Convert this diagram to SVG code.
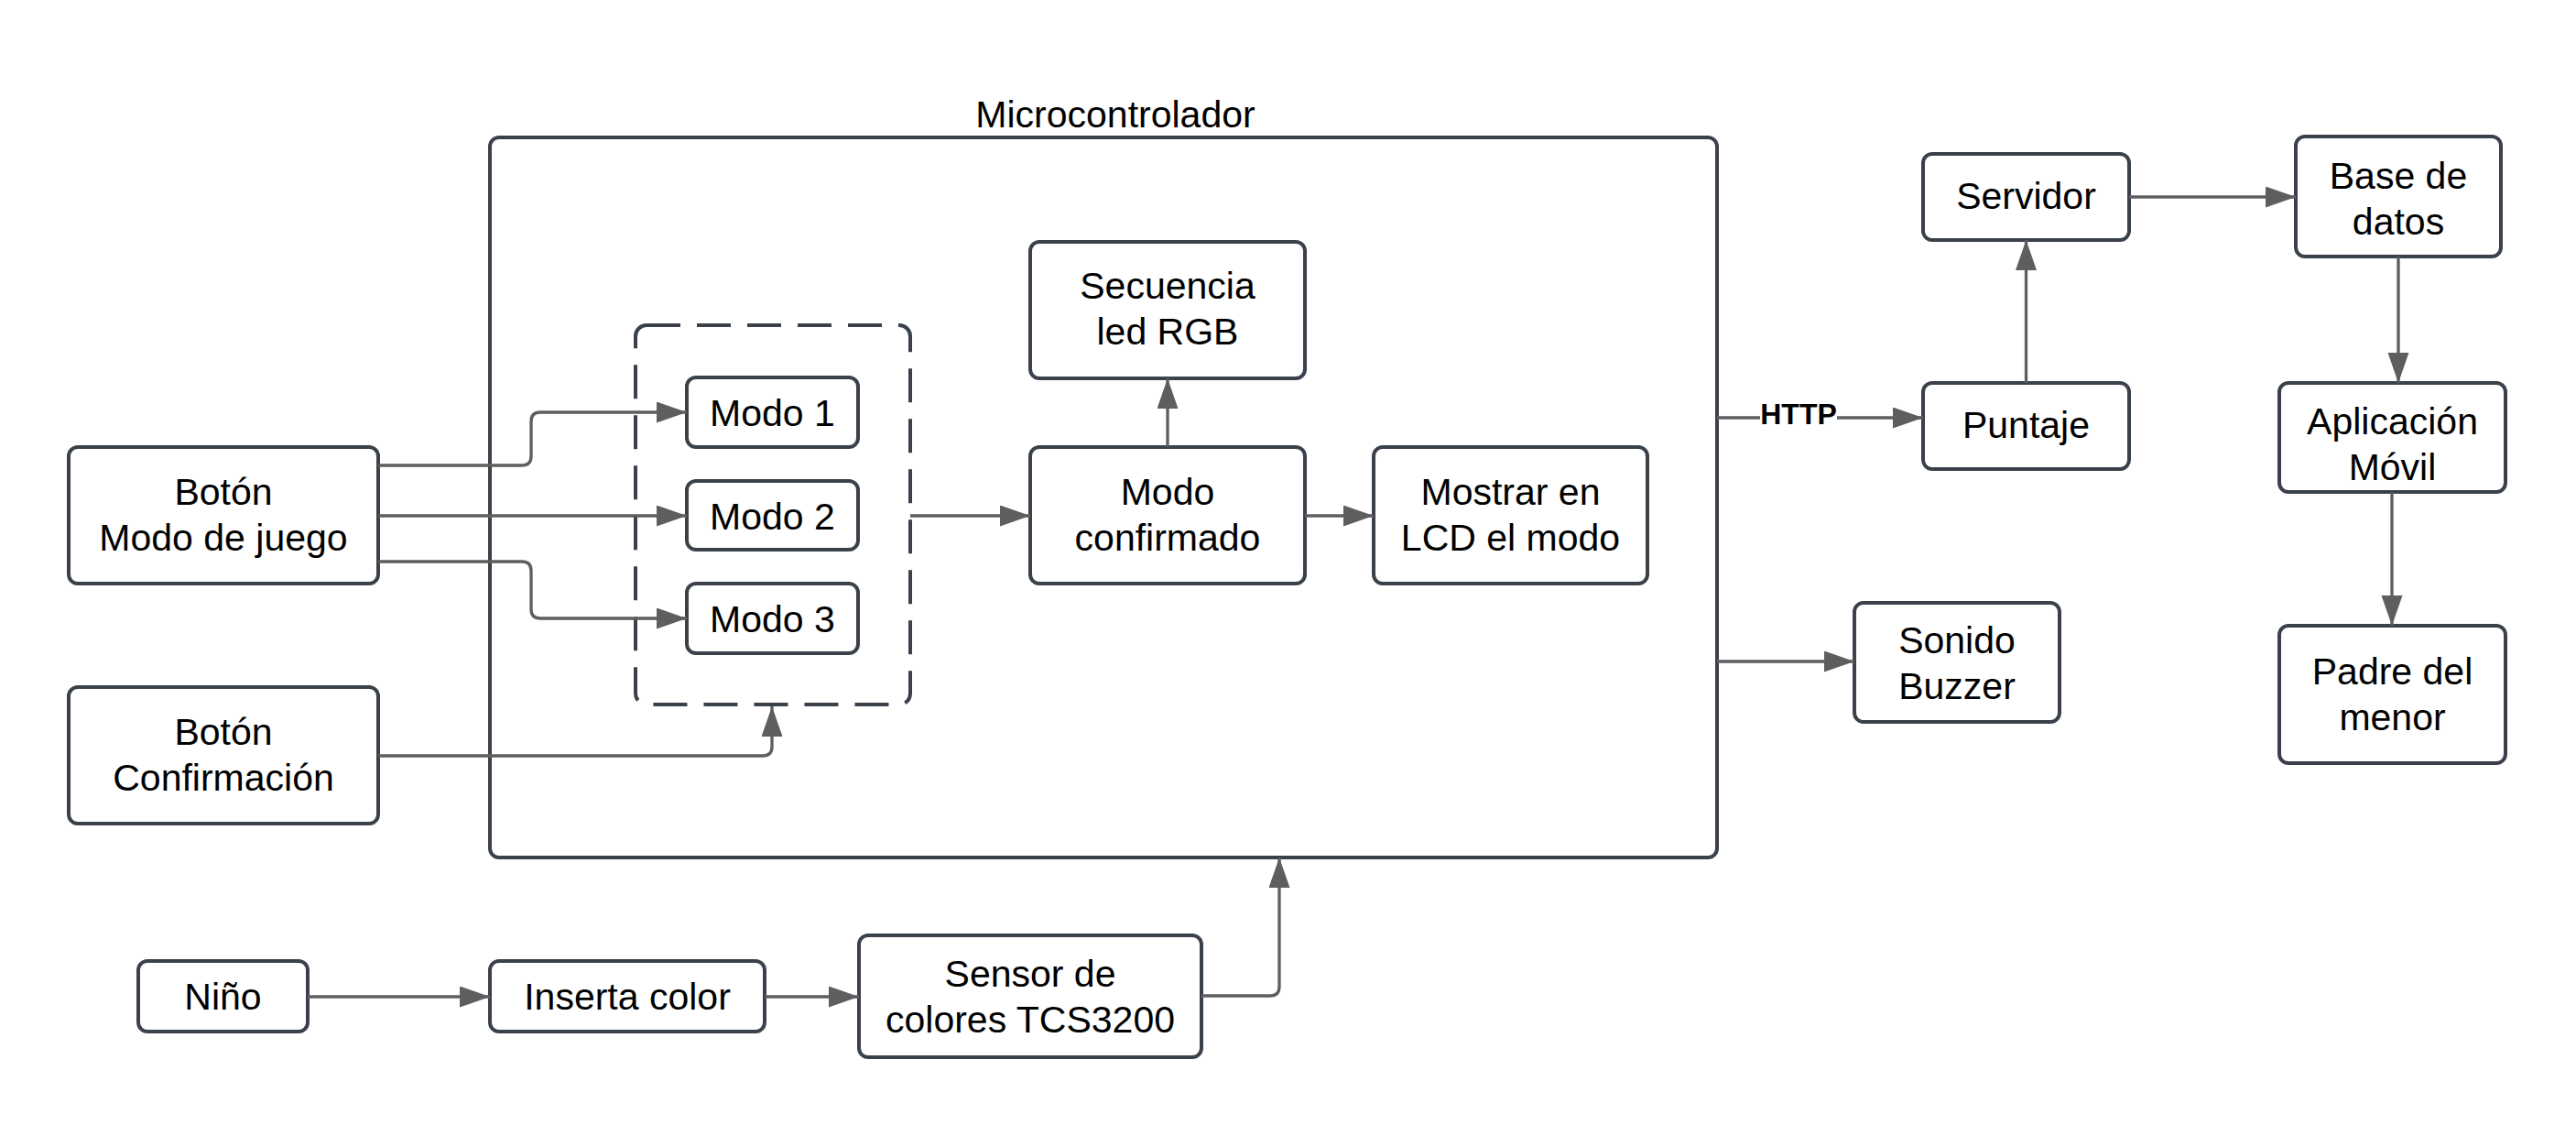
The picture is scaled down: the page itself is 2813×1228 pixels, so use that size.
<svg xmlns="http://www.w3.org/2000/svg" width="2813" height="1228" viewBox="0 0 2813 1228">
<style>
.box{fill:#ffffff;stroke:#3a414a;stroke-width:4}
.dash{fill:none;stroke:#3a414a;stroke-width:4;stroke-dasharray:37 18}
.t{font-family:"Liberation Sans",Arial,sans-serif;font-size:41px;fill:#000000;text-anchor:middle}
.c{fill:none;stroke:#5e5e5e;stroke-width:3.3}
.lbl{font-family:"Liberation Sans",Arial,sans-serif;font-size:32px;font-weight:bold;fill:#000000;text-anchor:middle}
</style>
<defs>
<marker id="arr" markerUnits="userSpaceOnUse" markerWidth="34" markerHeight="24" refX="33" refY="11.5" orient="auto">
<path d="M0 0 L33 11.5 L0 23 Z" fill="#5e5e5e"/>
</marker>
</defs>
<rect width="2813" height="1228" fill="#ffffff"/>

<g id="microcontrolador">
<rect class="box" x="535" y="150" width="1340" height="786" rx="10"/>
<text class="t" x="1218" y="139">Microcontrolador</text>
</g>

<g id="grupo-modos">
<rect class="dash" x="694" y="355" width="300" height="414" rx="12"/>
</g>

<g id="boton-modo">
<rect class="box" x="75" y="488" width="338" height="149" rx="10"/>
<text class="t" x="244" y="551">Botón</text>
<text class="t" x="244" y="601">Modo de juego</text>
</g>

<g id="boton-confirmacion">
<rect class="box" x="75" y="750" width="338" height="149" rx="10"/>
<text class="t" x="244" y="813">Botón</text>
<text class="t" x="244" y="863">Confirmación</text>
</g>

<g id="modo1">
<rect class="box" x="750" y="412" width="187" height="76" rx="10"/>
<text class="t" x="843.5" y="465">Modo 1</text>
</g>

<g id="modo2">
<rect class="box" x="750" y="525" width="187" height="75" rx="10"/>
<text class="t" x="843.5" y="577.5">Modo 2</text>
</g>

<g id="modo3">
<rect class="box" x="750" y="637" width="187" height="76" rx="10"/>
<text class="t" x="843.5" y="690">Modo 3</text>
</g>

<g id="secuencia">
<rect class="box" x="1125" y="264" width="300" height="149" rx="10"/>
<text class="t" x="1275" y="326">Secuencia</text>
<text class="t" x="1275" y="376">led RGB</text>
</g>

<g id="modo-confirmado">
<rect class="box" x="1125" y="488" width="300" height="149" rx="10"/>
<text class="t" x="1275" y="551">Modo</text>
<text class="t" x="1275" y="601">confirmado</text>
</g>

<g id="mostrar">
<rect class="box" x="1500" y="488" width="299" height="149" rx="10"/>
<text class="t" x="1649.5" y="551">Mostrar en</text>
<text class="t" x="1649.5" y="601">LCD el modo</text>
</g>

<g id="servidor">
<rect class="box" x="2100" y="168" width="225" height="94" rx="10"/>
<text class="t" x="2212.5" y="228">Servidor</text>
</g>

<g id="base-datos">
<rect class="box" x="2507" y="149" width="224" height="131" rx="10"/>
<text class="t" x="2619" y="206">Base de</text>
<text class="t" x="2619" y="256">datos</text>
</g>

<g id="puntaje">
<rect class="box" x="2100" y="418" width="225" height="94" rx="10"/>
<text class="t" x="2212.5" y="478">Puntaje</text>
</g>

<g id="aplicacion">
<rect class="box" x="2489" y="418" width="247" height="119" rx="10"/>
<text class="t" x="2612.5" y="474">Aplicación</text>
<text class="t" x="2612.5" y="524">Móvil</text>
</g>

<g id="sonido">
<rect class="box" x="2025" y="658" width="224" height="130" rx="10"/>
<text class="t" x="2137" y="713">Sonido</text>
<text class="t" x="2137" y="763">Buzzer</text>
</g>

<g id="padre">
<rect class="box" x="2489" y="683" width="247" height="150" rx="10"/>
<text class="t" x="2612.5" y="747">Padre del</text>
<text class="t" x="2612.5" y="797">menor</text>
</g>

<g id="nino">
<rect class="box" x="151" y="1049" width="185" height="77" rx="10"/>
<text class="t" x="243.5" y="1102">Niño</text>
</g>

<g id="inserta">
<rect class="box" x="535" y="1049" width="300" height="77" rx="10"/>
<text class="t" x="685" y="1102">Inserta color</text>
</g>

<g id="sensor">
<rect class="box" x="938" y="1021" width="374" height="133" rx="10"/>
<text class="t" x="1125" y="1077">Sensor de</text>
<text class="t" x="1125" y="1127">colores TCS3200</text>
</g>

<g id="connectors">
<path class="c" marker-end="url(#arr)" d="M413 508 H570 Q580 508 580 498 V460 Q580 450 590 450 H750"/>
<path class="c" marker-end="url(#arr)" d="M413 563 H750"/>
<path class="c" marker-end="url(#arr)" d="M413 613 H570 Q580 613 580 623 V665 Q580 675 590 675 H750"/>
<path class="c" marker-end="url(#arr)" d="M413 825 H833 Q843 825 843 815 V771"/>
<path class="c" marker-end="url(#arr)" d="M994 563 H1125"/>
<path class="c" marker-end="url(#arr)" d="M1275 488 V413"/>
<path class="c" marker-end="url(#arr)" d="M1425 563 H1500"/>
<path class="c" marker-end="url(#arr)" d="M1875 456 H2100"/>
<rect x="1922" y="436" width="84" height="36" fill="#ffffff"/>
<text class="lbl" x="1964" y="463">HTTP</text>
<path class="c" marker-end="url(#arr)" d="M2212.5 418 V262"/>
<path class="c" marker-end="url(#arr)" d="M2325 215 H2507"/>
<path class="c" marker-end="url(#arr)" d="M2619 280 V418"/>
<path class="c" marker-end="url(#arr)" d="M2612 537 V683"/>
<path class="c" marker-end="url(#arr)" d="M1875 722 H2025"/>
<path class="c" marker-end="url(#arr)" d="M336 1088 H535"/>
<path class="c" marker-end="url(#arr)" d="M835 1088 H938"/>
<path class="c" marker-end="url(#arr)" d="M1312 1087 H1387 Q1397 1087 1397 1077 V936"/>
</g>
</svg>
